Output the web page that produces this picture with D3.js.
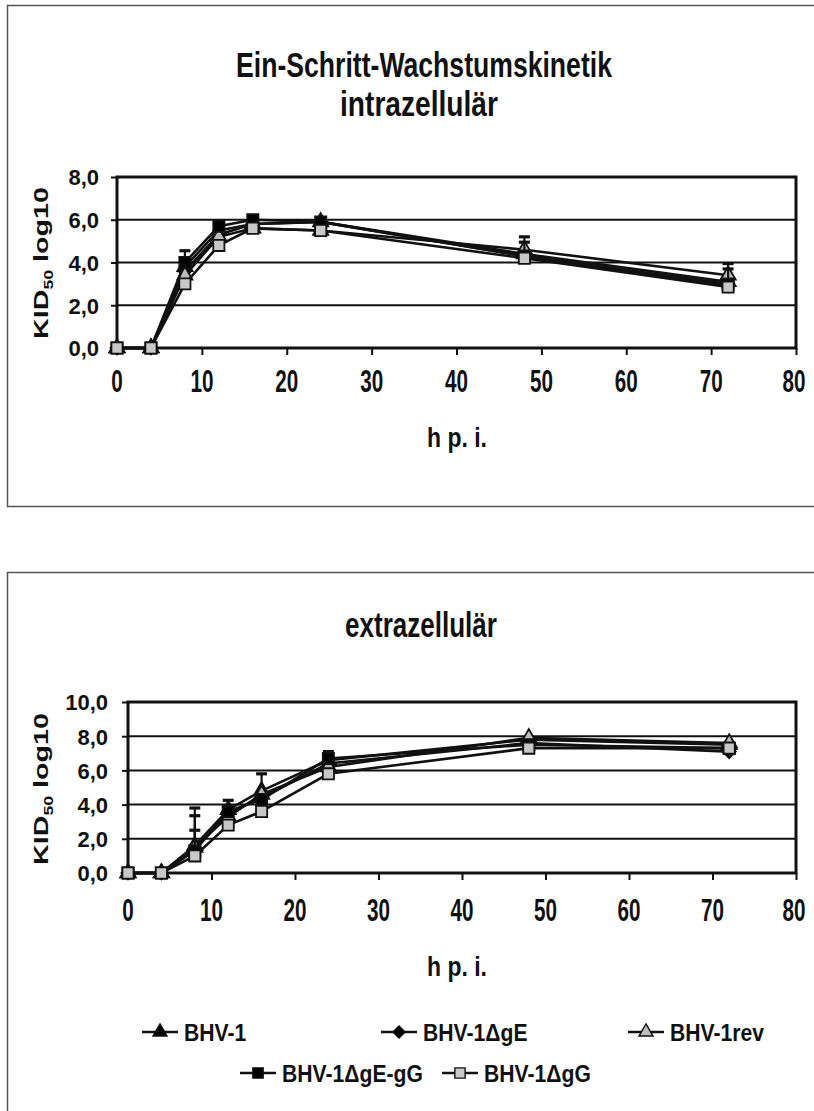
<!DOCTYPE html>
<html><head><meta charset="utf-8">
<script src="https://cdn.jsdelivr.net/npm/d3@7/dist/d3.min.js"></script>
<style>
html,body{margin:0;padding:0;background:#fff;}
text{font-family:"Liberation Sans",Arial,Helvetica,sans-serif;font-weight:bold;fill:#111;}
</style></head>
<body>
<svg id="chart" width="814" height="1111"></svg>
<script>
// ---------- data ----------
const hours = [0, 4, 8, 12, 16, 24, 48, 72];
const seriesNames = ["BHV-1", "BHV-1\u0394gE", "BHV-1rev", "BHV-1\u0394gE-gG", "BHV-1\u0394gG"];
const xTicks = [0, 10, 20, 30, 40, 50, 60, 70, 80];
const intraTicks = [0, 2, 4, 6, 8];
const extraTicks = [0, 2, 4, 6, 8, 10];

// intrazellulär (log10 KID50)
const intraBHV1     = [0, 0, 3.8, 5.5, 5.8, 5.9, 4.4, 3.1];
const intraDgE      = [0, 0, 3.6, 5.3, 5.8, 5.9, 4.3, 2.9];
const intraRev      = [0, 0, 3.4, 5.2, 5.6, 5.5, 4.6, 3.4];
const intraDgEgG    = [0, 0, 4.0, 5.7, 6.0, 5.9, 4.3, 3.0];
const intraDgG      = [0, 0, 3.0, 4.8, 5.6, 5.5, 4.2, 2.85];
const intraErrRev   = [null, null, null, null, null, null, 0.6, 0.55];
const intraErrDgEgG = [null, null, 0.55, null, null, null, 0.65, 0.7];

// extrazellulär (log10 KID50)
const extraBHV1     = [0, 0, 1.6, 3.7, 4.8, 6.6, 7.8, 7.5];
const extraDgE      = [0, 0, 1.4, 3.5, 4.4, 6.4, 7.6, 7.1];
const extraRev      = [0, 0, 1.5, 3.3, 4.6, 6.2, 7.9, 7.6];
const extraDgEgG    = [0, 0, 1.3, 3.6, 4.3, 6.7, 7.5, 7.3];
const extraDgG      = [0, 0, 1.0, 2.8, 3.6, 5.8, 7.3, 7.3];
const extraErrBHV1  = [null, null, 2.2, 0.55, 1.0, null, null, null];
const extraErrDgE   = [null, null, 1.95, null, null, null, null, null];
const extraErrDgEgG = [null, null, 1.2, null, null, 0.4, null, null];

// ---------- styles ----------
const markerStyles = [
  {type: d3.symbolTriangle, size: 100, fill: "#000"},
  {type: d3.symbolDiamond2, size: 110, fill: "#000"},
  {type: d3.symbolTriangle, size: 100, fill: "#bdbdbd"},
  {type: d3.symbolSquare,   size: 125, fill: "#000"},
  {type: d3.symbolSquare,   size: 125, fill: "#c8c8c8"}
];

const svg = d3.select("#chart");
svg.append("rect").attr("width", 814).attr("height", 1111).attr("fill", "#fff");

// panel frames
svg.append("rect").attr("x", 7.5).attr("y", 5.5).attr("width", 830).attr("height", 501)
  .attr("fill", "none").attr("stroke", "#555").attr("stroke-width", 1.5);
svg.append("rect").attr("x", 7.5).attr("y", 572.5).attr("width", 830).attr("height", 600)
  .attr("fill", "none").attr("stroke", "#555").attr("stroke-width", 1.5);

// text placed at (x,y) (baseline), stretched to a target width (or factor) and a vertical factor
function placeText(parent, x, y, str, size, width, sy, anchor, factor) {
  const g = parent.append("g");
  const t = g.append("text").attr("x", 0).attr("y", 0).attr("font-size", size)
    .attr("text-anchor", anchor || "middle").text(str);
  const w = t.node().getComputedTextLength();
  const sx = width ? width / w : (factor || 1);
  g.attr("transform", `translate(${x},${y}) scale(${sx},${sy || 1})`);
  return t;
}
const fmt = v => d3.format(".1f")(v).replace(".", ",");

function drawChart(cfg) {
  const g = svg.append("g");
  const x = d3.scaleLinear().domain([0, 80]).range([cfg.left, cfg.right]);
  const y = d3.scaleLinear().domain([0, cfg.ymax]).range([cfg.bottom, cfg.top]);

  // titles
  cfg.titles.forEach(t => placeText(g, t.x, t.y, t.text, 28, t.w, 1.22));

  // gridlines
  g.append("g").selectAll("line").data(cfg.yTicks.filter(v => v > 0 && v < cfg.ymax)).join("line")
    .attr("x1", cfg.left).attr("x2", cfg.right)
    .attr("y1", d => y(d)).attr("y2", d => y(d))
    .attr("stroke", "#111").attr("stroke-width", 2);

  // y axis
  const ya = g.append("g").attr("transform", `translate(${cfg.left},0)`)
    .call(d3.axisLeft(y).tickValues(cfg.yTicks).tickSize(6).tickPadding(cfg.yPad).tickFormat(fmt));
  ya.select(".domain").remove();
  ya.selectAll(".tick line").attr("stroke", "#111").attr("stroke-width", 2);
  ya.selectAll(".tick text").attr("font-size", 22).attr("font-family", null).attr("fill", "#111")
    .attr("dy", "0.36em");

  // x axis
  const xa = g.append("g").attr("transform", `translate(0,${cfg.bottom})`)
    .call(d3.axisBottom(x).tickValues(xTicks).tickSize(7).tickFormat(""));
  xa.select(".domain").remove();
  xa.selectAll(".tick line").attr("stroke", "#111").attr("stroke-width", 2);
  const xl = g.append("g");
  xTicks.forEach(d => placeText(xl, x(d) - (d === 80 ? 2 : 0), cfg.xLabelY, String(d), 22,
    String(d).length * 11.5, 1.42));

  // frame
  g.append("rect").attr("x", cfg.left).attr("y", cfg.top)
    .attr("width", cfg.right - cfg.left).attr("height", cfg.bottom - cfg.top)
    .attr("fill", "none").attr("stroke", "#111").attr("stroke-width", 3);

  // axis titles
  placeText(g, 457, cfg.xTitleY, "h p. i.", 24, 60, 1.12);

  const ytG = g.append("g").attr("transform", `translate(48,${cfg.yTitleCY}) rotate(-90)`);
  const yt = ytG.append("text").attr("x", 0).attr("y", 0).attr("font-size", 21);
  yt.append("tspan").text("KID");
  yt.append("tspan").attr("font-size", 13).attr("dy", 5).text("50");
  yt.append("tspan").attr("dy", -5).text(" log10");
  const bw = yt.node().getBBox().width;
  const k = 152 / bw;
  yt.attr("transform", `scale(${k},1) translate(${-bw / 2},0)`);

  // series
  const line = d3.line().x((d, i) => x(hours[i])).y(d => y(d));
  cfg.series.forEach((vals, si) => {
    const sg = g.append("g");
    const err = cfg.errors[si];
    if (err) {
      err.forEach((e, i) => {
        if (e == null) return;
        const cx = x(hours[i]);
        sg.append("line").attr("x1", cx).attr("x2", cx).attr("y1", y(vals[i])).attr("y2", y(vals[i] + e))
          .attr("stroke", "#111").attr("stroke-width", 2.2);
        sg.append("line").attr("x1", cx - 5.5).attr("x2", cx + 5.5).attr("y1", y(vals[i] + e)).attr("y2", y(vals[i] + e))
          .attr("stroke", "#111").attr("stroke-width", 3.2);
      });
    }
    sg.append("path").datum(vals).attr("d", line).attr("fill", "none")
      .attr("stroke", "#111").attr("stroke-width", 2.6);
    const ms = markerStyles[si];
    sg.selectAll("path.m").data(vals).join("path").attr("class", "m")
      .attr("transform", (d, i) => `translate(${x(hours[i])},${y(d)})`)
      .attr("d", d3.symbol().type(ms.type).size(ms.size))
      .attr("fill", ms.fill).attr("stroke", "#111").attr("stroke-width", 1.8);
  });
}

drawChart({
  left: 117, right: 796, top: 177, bottom: 348, ymax: 8, yTicks: intraTicks, yPad: 12,
  xLabelY: 392, xTitleY: 447, yTitleCY: 263,
  titles: [
    {text: "Ein-Schritt-Wachstumskinetik", x: 424, y: 77, w: 376},
    {text: "intrazellulär", x: 419, y: 116, w: 158}
  ],
  series: [intraBHV1, intraDgE, intraRev, intraDgEgG, intraDgG],
  errors: [null, null, intraErrRev, intraErrDgEgG, null]
});

drawChart({
  left: 128, right: 796, top: 702, bottom: 873, ymax: 10, yTicks: extraTicks, yPad: 14,
  xLabelY: 921, xTitleY: 976, yTitleCY: 789,
  titles: [
    {text: "extrazellulär", x: 421, y: 637, w: 152}
  ],
  series: [extraBHV1, extraDgE, extraRev, extraDgEgG, extraDgG],
  errors: [extraErrBHV1, extraErrDgE, null, extraErrDgEgG, null]
});

// ---------- legend ----------
const legendPos = [
  {x0: 142, y: 1032}, {x0: 381, y: 1032}, {x0: 628, y: 1032},
  {x0: 240, y: 1073}, {x0: 442, y: 1073}
];
const lg = svg.append("g");
seriesNames.forEach((name, i) => {
  const p = legendPos[i];
  const ms = markerStyles[i];
  const it = lg.append("g");
  it.append("line").attr("x1", p.x0).attr("x2", p.x0 + 36).attr("y1", p.y).attr("y2", p.y)
    .attr("stroke", "#111").attr("stroke-width", 2.4);
  it.append("path").attr("transform", `translate(${p.x0 + 18},${p.y})`)
    .attr("d", d3.symbol().type(ms.type).size(ms.size * 0.85))
    .attr("fill", ms.fill).attr("stroke", "#111").attr("stroke-width", 1.4);
  placeText(it, p.x0 + 42, p.y + 8.5, name, 23, null, 1.08, "start", 0.92);
});
</script>
</body></html>
